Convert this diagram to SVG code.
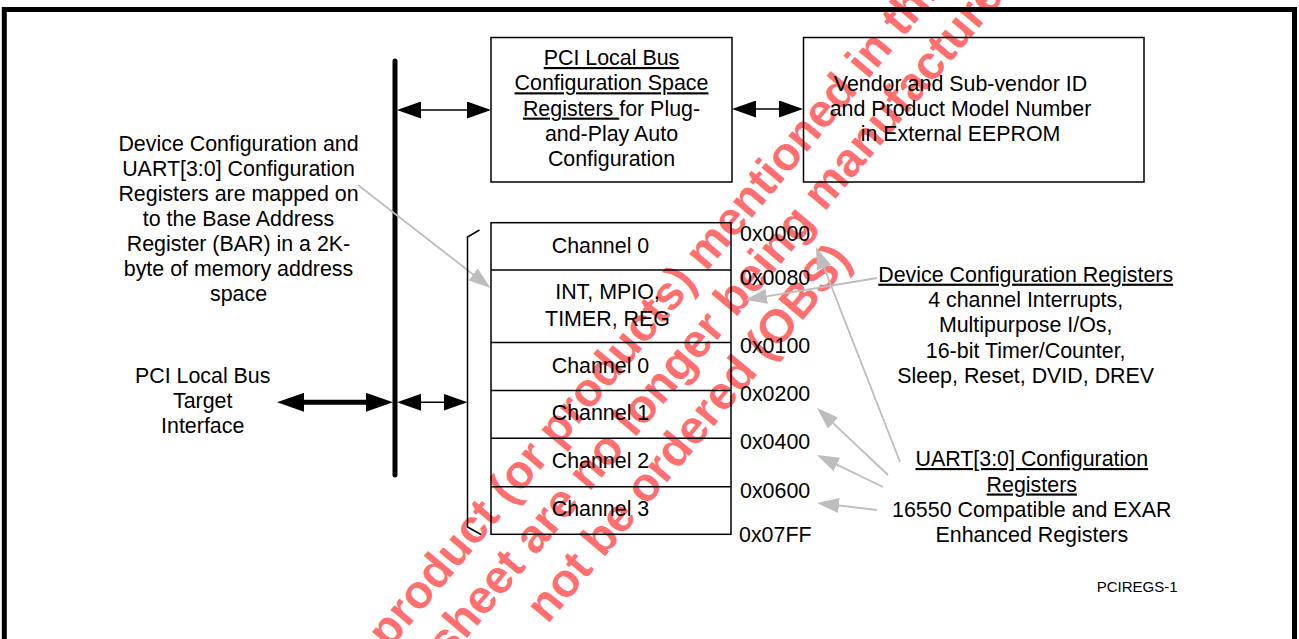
<svg xmlns="http://www.w3.org/2000/svg" width="1299" height="639" viewBox="0 0 1299 639">
<style>
text{font-family:"Liberation Sans",Arial,sans-serif;font-size:21.4px;fill:#000;text-anchor:middle}
.l{text-anchor:start}
.u{text-decoration:underline}
.small{font-size:15px}
.wm{font-family:"Liberation Sans",Arial,sans-serif;font-weight:bold;font-size:47px;fill:#ff0000;fill-opacity:0.58;text-anchor:start}
.box{fill:none;stroke:#000;stroke-width:1.5}
.thin{stroke:#000;stroke-width:1.5;fill:none}
.gray{stroke:#bdbdbd;stroke-width:1.8;fill:none}
</style>
<defs>
<marker id="ah" markerUnits="userSpaceOnUse" markerWidth="24" markerHeight="17" refX="20" refY="8.5" orient="auto-start-reverse"><path d="M0,0 L24,8.5 L0,17 z" fill="#000"/></marker>
<marker id="ahb" markerUnits="userSpaceOnUse" markerWidth="27" markerHeight="19" refX="15" refY="9.5" orient="auto-start-reverse"><path d="M0,0 L27,9.5 L0,19 z" fill="#000"/></marker>
<marker id="ga" markerUnits="userSpaceOnUse" markerWidth="22" markerHeight="15" refX="16" refY="7.5" orient="auto"><path d="M0,0 L22,7.5 L0,15 z" fill="#bdbdbd"/></marker>
</defs>
<rect width="1299" height="639" fill="#fff"/>

<g id="watermark">
<text class="wm" transform="translate(389.1,650.2) rotate(-50)">product (or products) mentioned in this</text>
<text class="wm" transform="translate(386.1,734.6) rotate(-50)">datasheet are no longer being manufactured</text>
<text class="wm" style="text-anchor:end" transform="translate(853,260.6) rotate(-50)">not be ordered (OBS)</text>
</g>

<g id="frame">
<rect x="4.3" y="9.5" width="1290.2" height="700" fill="none" stroke="#000" stroke-width="5"/>
</g>

<g id="connectors">
<line x1="395" y1="61" x2="395" y2="475" stroke="#000" stroke-width="5" stroke-linecap="round"/>
<line class="thin" x1="401" y1="110" x2="487" y2="110" marker-start="url(#ah)" marker-end="url(#ah)"/>
<line class="thin" x1="736" y1="109" x2="799" y2="109" marker-start="url(#ah)" marker-end="url(#ah)"/>
<line class="thin" x1="401" y1="402.3" x2="463.5" y2="402.3" marker-start="url(#ah)" marker-end="url(#ah)"/>
<line x1="289" y1="402.3" x2="381" y2="402.3" stroke="#000" stroke-width="5" marker-start="url(#ahb)" marker-end="url(#ahb)"/>
<line class="gray" x1="358" y1="185" x2="485.8" y2="284.3" marker-end="url(#ga)"/>
<line class="gray" x1="877" y1="278" x2="750.9" y2="299" marker-end="url(#ga)"/>
<line class="gray" x1="900" y1="462" x2="818.2" y2="252.6" marker-end="url(#ga)"/>
<line class="gray" x1="888" y1="475" x2="821.4" y2="412.1" marker-end="url(#ga)"/>
<line class="gray" x1="883" y1="487" x2="822.4" y2="457.6" marker-end="url(#ga)"/>
<line class="gray" x1="877" y1="510" x2="823" y2="503.7" marker-end="url(#ga)"/>
</g>

<g id="pci-config-box">
<rect class="box" x="491" y="37.5" width="241" height="144.5"/>
<text x="611.5" y="65"><tspan class="u">PCI Local Bus</tspan></text>
<text x="611.5" y="90.3"><tspan class="u">Configuration Space</tspan></text>
<text x="611.5" y="115.6"><tspan class="u">Registers </tspan>for Plug-</text>
<text x="611.5" y="140.9">and-Play Auto</text>
<text x="611.5" y="166.2">Configuration</text>
</g>

<g id="eeprom-box">
<rect class="box" x="803.5" y="37.5" width="340.5" height="144.5"/>
<text x="960.5" y="90.7">Vendor and Sub-vendor ID</text>
<text x="960.5" y="116">and Product Model Number</text>
<text x="960.5" y="141.3">in External EEPROM</text>
</g>

<g id="memory-map">
<polyline class="thin" points="479.5,230 467.5,237 467.5,527 481,534.5"/>
<rect class="box" x="491" y="222.7" width="240" height="311.6"/>
<line class="thin" x1="491" y1="270" x2="731" y2="270"/>
<line class="thin" x1="491" y1="342.5" x2="731" y2="342.5"/>
<line class="thin" x1="491" y1="390.5" x2="731" y2="390.5"/>
<line class="thin" x1="491" y1="438.3" x2="731" y2="438.3"/>
<line class="thin" x1="491" y1="486.7" x2="731" y2="486.7"/>
<text x="600.5" y="252.7">Channel 0</text>
<text x="607.5" y="299">INT, MPIO,</text>
<text x="607.5" y="325.5">TIMER, REG</text>
<text x="600.5" y="372.5">Channel 0</text>
<text x="600.5" y="420">Channel 1</text>
<text x="600.5" y="467.8">Channel 2</text>
<text x="600.5" y="516">Channel 3</text>
</g>

<g id="addresses">
<text class="l" x="740" y="241">0x0000</text>
<text class="l" x="740" y="285">0x0080</text>
<text class="l" x="740" y="352.5">0x0100</text>
<text class="l" x="740" y="401">0x0200</text>
<text class="l" x="740" y="448.8">0x0400</text>
<text class="l" x="740" y="498.3">0x0600</text>
<text class="l" x="739" y="541.7">0x07FF</text>
</g>

<g id="bar-note">
<text x="238.5" y="150.5">Device Configuration and</text>
<text x="238.5" y="175.5">UART[3:0] Configuration</text>
<text x="238.5" y="200.5">Registers are mapped on</text>
<text x="238.5" y="225.5">to the Base Address</text>
<text x="238.5" y="250.5">Register (BAR) in a 2K-</text>
<text x="238.5" y="275.5">byte of memory address</text>
<text x="238.5" y="300.5">space</text>
</g>

<g id="pci-target">
<text x="202.7" y="383.3">PCI Local Bus</text>
<text x="202.7" y="408.3">Target</text>
<text x="202.7" y="433.3">Interface</text>
</g>

<g id="device-config-note">
<text x="1025.7" y="281.7"><tspan class="u">Device Configuration Registers</tspan></text>
<text x="1025.7" y="307">4 channel Interrupts,</text>
<text x="1025.7" y="332.3">Multipurpose I/Os,</text>
<text x="1025.7" y="357.6">16-bit Timer/Counter,</text>
<text x="1025.7" y="382.9">Sleep, Reset, DVID, DREV</text>
</g>

<g id="uart-note">
<text x="1031.8" y="466"><tspan class="u">UART[3:0] Configuration</tspan></text>
<text x="1031.8" y="491.5"><tspan class="u">Registers</tspan></text>
<text x="1031.8" y="516.8">16550 Compatible and EXAR</text>
<text x="1031.8" y="541.8">Enhanced Registers</text>
</g>

<g id="figure-id">
<text class="l small" x="1096.7" y="592.3">PCIREGS-1</text>
</g>
</svg>
